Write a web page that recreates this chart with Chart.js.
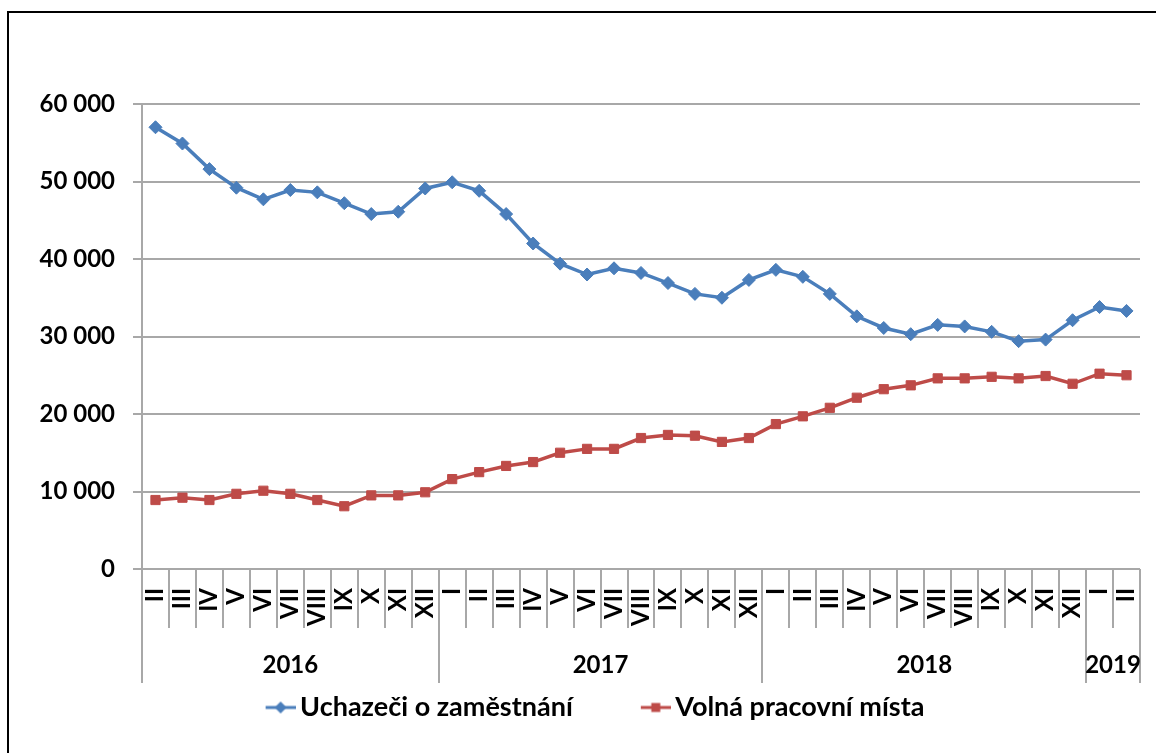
<!DOCTYPE html>
<html><head><meta charset="utf-8">
<script src="https://cdn.jsdelivr.net/npm/chart.js@4.4.0/dist/chart.umd.min.js"></script>
<style>html,body{margin:0;padding:0;background:#fff;} canvas{display:block;}</style>
</head><body>
<canvas id="c" width="1156" height="753"></canvas>
<script>
const months = ['II','III','IV','V','VI','VII','VIII','IX','X','XI','XII',
  'I','II','III','IV','V','VI','VII','VIII','IX','X','XI','XII',
  'I','II','III','IV','V','VI','VII','VIII','IX','X','XI','XII',
  'I','II'];
const years = ['2016','2017','2018','2019'];
const monthsPerYear = [11, 12, 12, 2];
const uchazeci = [57000,54900,51600,49200,47700,48900,48600,47200,45800,46100,49100,
  49900,48800,45800,42000,39400,38000,38800,38200,36900,35500,35000,37300,
  38600,37700,35500,32600,31100,30300,31500,31300,30600,29400,29600,32100,
  33800,33300];
const volnaMista = [8900,9200,8900,9700,10100,9700,8900,8100,9500,9500,9900,
  11600,12500,13300,13800,15000,15500,15500,16900,17300,17200,16400,16900,
  18700,19700,20800,22100,23200,23700,24600,24600,24800,24600,24900,23900,
  25200,25000];
const yTicks = [0,10000,20000,30000,40000,50000,60000];
const seriesNames = ['Uchazeči o zaměstnání','Volná pracovní místa'];
const seriesColors = ['#4A7EBB','#BE4B48'];

const FONT = 'Lato';
const GRID = '#a8a8a8';
const LEGEND_SHIFT = -14;

function fmt(v){ return String(v).replace(/\B(?=(\d{3})+(?!\d))/g,' '); }

function makeIcon(color, style){
  const c = document.createElement('canvas');
  c.width = 97; c.height = 16;
  const g = c.getContext('2d');
  g.strokeStyle = color; g.fillStyle = color; g.lineWidth = 3;
  g.beginPath(); g.moveTo(67, 8); g.lineTo(97, 8); g.stroke();
  g.beginPath();
  if (style === 'rectRot'){ g.moveTo(82-6,8); g.lineTo(82,2); g.lineTo(88,8); g.lineTo(82,14); g.closePath(); }
  else { g.rect(82-4.5, 8-4.5, 9, 9); }
  g.fill();
  return c;
}
const icons = [makeIcon(seriesColors[0],'rectRot'), makeIcon(seriesColors[1],'rect')];

const decor = {
  id: 'decor',
  afterLayout(chart){
    if (chart.legend){ chart.legend.left += LEGEND_SHIFT; chart.legend.right += LEGEND_SHIFT; }
  },
  beforeDraw(chart){
    const ctx = chart.ctx;
    ctx.save();
    ctx.fillStyle = '#fff'; ctx.fillRect(0,0,chart.width,chart.height);
    ctx.strokeStyle = '#000'; ctx.lineWidth = 2;
    ctx.beginPath(); ctx.moveTo(8, chart.height+5); ctx.lineTo(8, 12); ctx.lineTo(chart.width+5, 12); ctx.stroke();
    ctx.restore();
  },
  afterDraw(chart){
    const x = chart.scales.x, ctx = chart.ctx;
    const step = x.getPixelForValue(1) - x.getPixelForValue(0);
    const top = chart.chartArea.bottom;
    const bounds = new Set([0]); let acc = 0;
    monthsPerYear.forEach(n => { acc += n; bounds.add(acc); });
    ctx.save();
    ctx.strokeStyle = GRID; ctx.lineWidth = 2;
    for (let i = 0; i <= months.length; i++){
      const px = i < months.length ? x.getPixelForValue(i) - step/2 : x.getPixelForValue(i-1) + step/2;
      const len = bounds.has(i) ? 114 : 59;
      const p = Math.round(px);
      ctx.beginPath(); ctx.moveTo(p, top); ctx.lineTo(p, top + len); ctx.stroke();
    }
    ctx.fillStyle = '#000'; ctx.font = 'bold 24px ' + FONT;
    ctx.textAlign = 'center'; ctx.textBaseline = 'middle';
    acc = 0;
    years.forEach((y, k) => {
      const a = x.getPixelForValue(acc) - step/2;
      acc += monthsPerYear[k];
      const b = x.getPixelForValue(acc-1) + step/2;
      ctx.fillText(y, (a+b)/2, top + 96);
    });
    ctx.restore();
  }
};

new Chart(document.getElementById('c'), {
  type: 'line',
  data: {
    labels: months,
    datasets: [
      { label: seriesNames[0], data: uchazeci, borderColor: seriesColors[0], backgroundColor: seriesColors[0],
        borderWidth: 3.5, pointStyle: 'rectRot', pointRadius: 6.5, pointBorderWidth: 1, tension: 0 },
      { label: seriesNames[1], data: volnaMista, borderColor: seriesColors[1], backgroundColor: seriesColors[1],
        borderWidth: 3.5, pointStyle: 'rect', pointRadius: 6.5, pointBorderWidth: 1, tension: 0 }
    ]
  },
  options: {
    responsive: false, animation: false, devicePixelRatio: 1,
    layout: { padding: { top: 104, left: 20, right: 16, bottom: 22 } },
    plugins: {
      tooltip: { enabled: false },
      legend: {
        position: 'bottom',
        labels: {
          usePointStyle: true, pointStyleWidth: 79, padding: 10,
          color: '#000', font: { family: FONT, size: 27, weight: 'bold' },
          generateLabels(chart){
            const items = Chart.defaults.plugins.legend.labels.generateLabels(chart);
            items.forEach((it, i) => { it.pointStyle = icons[i]; });
            return items;
          }
        }
      }
    },
    scales: {
      x: {
        offset: true,
        grid: { display: true, drawOnChartArea: false, drawTicks: false },
        border: { display: false },
        ticks: { autoSkip: false, minRotation: 90, maxRotation: 90, padding: 19, color: '#000',
          font: { family: FONT, size: 24, weight: 'bold' } },
        afterFit(s){ s.height = 115; s.paddingLeft = 0; s.paddingRight = 0; }
      },
      y: {
        min: 0, max: 60000,
        afterBuildTicks(s){ s.ticks = yTicks.map(v => ({ value: v })); },
        grid: { color: GRID, lineWidth: 2, tickLength: 9 },
        border: { display: true, color: GRID, width: 2 },
        ticks: { padding: 18, color: '#000', font: { family: FONT, size: 24, weight: 'bold' },
          callback: v => fmt(v) },
        afterFit(s){ s.width = 122; s.paddingTop = 0; s.paddingBottom = 0; }
      }
    }
  },
  plugins: [decor]
});
</script>
</body></html>
